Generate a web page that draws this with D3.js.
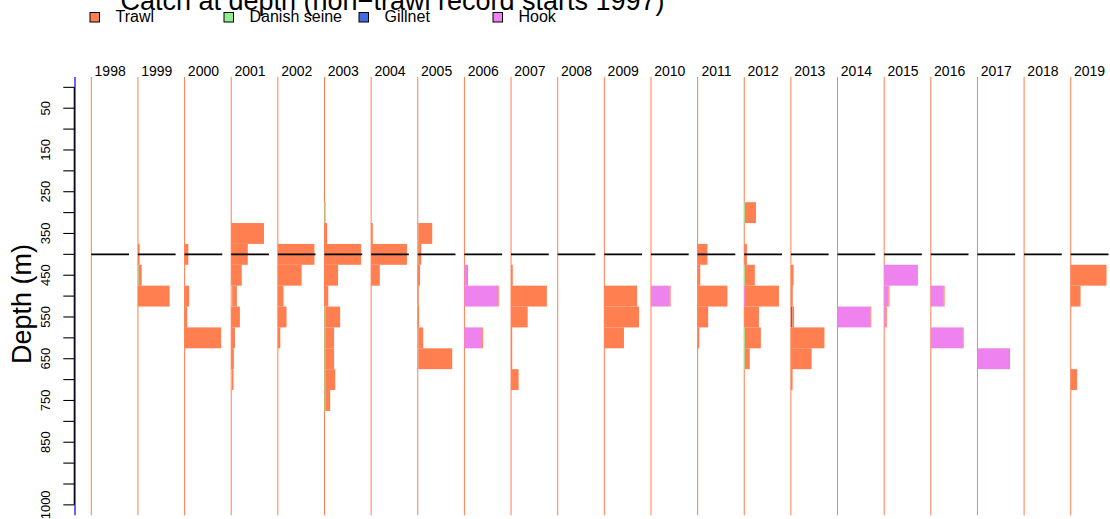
<!DOCTYPE html>
<html>
<head>
<meta charset="utf-8">
<script src="https://cdn.jsdelivr.net/npm/d3@7"></script>
<style>
  body { margin: 0; background: #fff; }
  svg { display: block; font-family: "Liberation Sans", Arial, sans-serif; }
</style>
</head>
<body>
<svg id="chart"></svg>
<script>
// years shown as panels, depth bins (m) and the tick labels that R managed to fit
const years = [1998, 1999, 2000, 2001, 2002, 2003, 2004, 2005, 2006, 2007, 2008,
               2009, 2010, 2011, 2012, 2013, 2014, 2015, 2016, 2017, 2018, 2019];
const depths = [0, 50, 100, 150, 200, 250, 300, 350, 400, 450, 500,
                550, 600, 650, 700, 750, 800, 850, 900, 950, 1000];
const depthLabels = [50, 150, 250, 350, 450, 550, 650, 750, 850, 1000];
const refDepth = 400;

const gears = ["Trawl", "Danish seine", "Gillnet", "Hook"];
const gearColors = ["#FF7F50", "#90EE90", "#4169E1", "#EE82EE"];
const stackOrder = ["Danish seine", "Gillnet", "Hook", "Trawl"];

// [year, depth, relative catch (% of panel max)]
const trawl = [
  [1999, 400, 4.5], [1999, 450, 8], [1999, 500, 84],
  [2000, 400, 10], [2000, 500, 12], [2000, 550, 7], [2000, 600, 97],
  [2001, 350, 87], [2001, 400, 44], [2001, 450, 28], [2001, 500, 12.5], [2001, 550, 23],
  [2001, 600, 10], [2001, 650, 7], [2001, 700, 4],
  [2002, 400, 97], [2002, 450, 63], [2002, 500, 15], [2002, 550, 23], [2002, 600, 6.5],
  [2003, 350, 7], [2003, 400, 97], [2003, 450, 36], [2003, 500, 10], [2003, 550, 39.5],
  [2003, 600, 23.5], [2003, 650, 23.5], [2003, 700, 26.5], [2003, 750, 13],
  [2004, 350, 4.5], [2004, 400, 95], [2004, 450, 23],
  [2005, 350, 37], [2005, 400, 8], [2005, 450, 6], [2005, 500, 2.5], [2005, 550, 3.5],
  [2005, 600, 13], [2005, 650, 90],
  [2006, 450, 2.5], [2006, 500, 2], [2006, 600, 2.5],
  [2007, 450, 4.5], [2007, 500, 95], [2007, 550, 44], [2007, 600, 3], [2007, 650, 3], [2007, 700, 20],
  [2009, 500, 87], [2009, 550, 92], [2009, 600, 52],
  [2010, 500, 2],
  [2011, 400, 26], [2011, 450, 7], [2011, 500, 79], [2011, 550, 28], [2011, 600, 4.5],
  [2012, 300, 29], [2012, 400, 7], [2012, 450, 26], [2012, 500, 90], [2012, 550, 39],
  [2012, 600, 42], [2012, 650, 12.5],
  [2013, 450, 7], [2013, 500, 5], [2013, 550, 5], [2013, 600, 89], [2013, 650, 55], [2013, 700, 4.5],
  [2014, 550, 2],
  [2015, 450, 2], [2015, 500, 2.5], [2015, 550, 2],
  [2016, 500, 2], [2016, 600, 2],
  [2017, 650, 2.5],
  [2019, 450, 95], [2019, 500, 26], [2019, 700, 17]
];
const danishSeine = [
  [1999, 450, 2],
  [2001, 500, 2.5], [2001, 700, 2],
  [2003, 300, 3.5], [2003, 550, 2], [2003, 600, 2], [2003, 650, 2], [2003, 700, 2], [2003, 750, 2],
  [2005, 350, 1.3], [2005, 400, 1.3], [2005, 600, 1.3], [2005, 650, 1.3],
  [2012, 300, 2], [2012, 450, 2], [2012, 600, 2], [2012, 650, 2]
];
const gillnet = [
  [2013, 550, 3.5]
];
const hook = [
  [2006, 450, 7], [2006, 500, 90], [2006, 600, 47],
  [2010, 500, 50],
  [2012, 500, 2],
  [2014, 550, 87.5],
  [2015, 450, 87.5], [2015, 500, 11.5], [2015, 550, 5],
  [2016, 500, 34.5], [2016, 600, 85],
  [2017, 650, 84]
];

const width = 1110, height = 519;
const svg = d3.select("#chart").attr("width", width).attr("height", height);

// build one table per year: rows = depth bins, columns = gears
const byGear = { "Trawl": trawl, "Danish seine": danishSeine, "Gillnet": gillnet, "Hook": hook };
const tables = new Map(years.map(yr => [yr, depths.map(d => {
  const row = { depth: d };
  gears.forEach(g => { row[g] = 0; });
  return row;
})]));
gears.forEach(g => {
  byGear[g].forEach(([yr, d, v]) => {
    tables.get(yr)[depths.indexOf(d)][g] = v;
  });
});

const color = d3.scaleOrdinal().domain(gears).range(gearColors);
const stack = d3.stack().keys(stackOrder);

const y = d3.scaleBand().domain(depths).range([76.9, 515.3]).padding(0);
const panel = d3.scaleBand().domain(years).range([91.3, 91.3 + 46.64 * years.length]).padding(0);
const x = d3.scaleLinear().domain([0, 100]).range([0, 37.7]);

// blue edge and y axis
svg.append("line")
  .attr("x1", 75).attr("x2", 75)
  .attr("y1", y.range()[0]).attr("y2", y.range()[1])
  .attr("stroke", "#0000FF").attr("stroke-width", 1.2);

const axisG = svg.append("g")
  .attr("transform", "translate(74.3,0)")
  .call(d3.axisLeft(y)
    .tickSize(11)
    .tickFormat(d => depthLabels.includes(d) ? d : ""));
axisG.select(".domain").remove();
axisG.selectAll(".tick line").attr("stroke", "#000").attr("stroke-width", 1.1);
axisG.selectAll(".tick text")
  .attr("transform", "rotate(-90)")
  .attr("x", 0).attr("y", -24.3).attr("dy", 0)
  .attr("text-anchor", "middle")
  .attr("fill", "#000")
  .style("font-size", "13px")
  .style("font-family", "'Liberation Sans', Arial, sans-serif");
axisG.append("line")
  .attr("x1", 0).attr("x2", 0)
  .attr("y1", y(depths[0]) + y.bandwidth() / 2)
  .attr("y2", y(depths[depths.length - 1]) + y.bandwidth() / 2)
  .attr("stroke", "#000").attr("stroke-width", 1.2);

// one small horizontal barplot per year
const panels = svg.selectAll("g.panel")
  .data(years)
  .enter()
  .append("g")
  .attr("class", "panel")
  .attr("transform", yr => `translate(${panel(yr)},0)`);

panels.append("line")
  .attr("x1", 0).attr("x2", 0)
  .attr("y1", y.range()[0]).attr("y2", y.range()[1])
  .attr("stroke", color("Trawl")).attr("stroke-width", 1);

panels.each(function (yr) {
  const layers = stack(tables.get(yr));
  d3.select(this).selectAll("g.layer")
    .data(layers)
    .enter()
    .append("g")
    .attr("fill", d => color(d.key))
    .selectAll("rect")
    .data(d => d.filter(s => s[1] - s[0] > 0))
    .enter()
    .append("rect")
    .attr("x", s => x(s[0]))
    .attr("width", s => x(s[1]) - x(s[0]))
    .attr("y", s => y(s.data.depth))
    .attr("height", y.bandwidth());
});

panels.append("line")
  .attr("x1", x(0)).attr("x2", x(100))
  .attr("y1", y(refDepth) + y.bandwidth() / 2)
  .attr("y2", y(refDepth) + y.bandwidth() / 2)
  .attr("stroke", "#000").attr("stroke-width", 1.8);

panels.append("text")
  .attr("x", x(50))
  .attr("y", 75.5)
  .attr("text-anchor", "middle")
  .style("font-size", "14px")
  .text(yr => yr);

// title (partly cut off at the top, as in the original)
svg.append("text")
  .attr("x", 392.5).attr("y", 10)
  .attr("text-anchor", "middle")
  .style("font-size", "27px")
  .text("Catch at depth (non\u2212trawl record starts 1997)");

svg.append("text")
  .attr("transform", "translate(31,304) rotate(-90)")
  .attr("text-anchor", "middle")
  .style("font-size", "27px")
  .text("Depth (m)");

// legend
const legendX = [90, 224, 359, 493];
const legend = svg.selectAll("g.legend")
  .data(gears)
  .enter()
  .append("g")
  .attr("transform", (g, i) => `translate(${legendX[i]},12.5)`);
legend.append("rect")
  .attr("width", 9.5).attr("height", 9.5)
  .attr("fill", g => color(g))
  .attr("stroke", "#000").attr("stroke-width", 1);
legend.append("text")
  .attr("x", 25.5).attr("y", 9.8)
  .style("font-size", "16px")
  .text(g => g);
</script>
</body>
</html>
